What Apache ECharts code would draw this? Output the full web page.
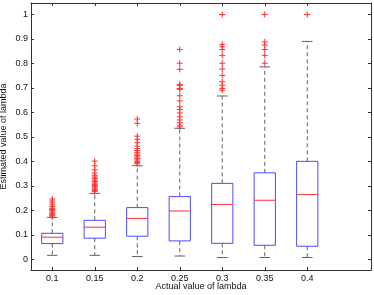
<!DOCTYPE html>
<html>
<head>
<meta charset="utf-8">
<script src="https://cdn.jsdelivr.net/npm/echarts@6/dist/echarts.min.js"></script>
<style>
html,body{margin:0;padding:0;background:#fff;}
#chart{width:374px;height:295px;}
</style>
</head>
<body>
<div id="chart"></div>
<script>
// ---- data ----
const categories = ['0.1', '0.15', '0.2', '0.25', '0.3', '0.35', '0.4'];
const lowerWhisker = [0.016, 0.016, 0.011, 0.013, 0.007, 0.007, 0.007];
const q1 = [0.064, 0.086, 0.094, 0.075, 0.065, 0.057, 0.053];
const medians = [0.090, 0.131, 0.167, 0.197, 0.224, 0.241, 0.264];
const q3 = [0.106, 0.159, 0.211, 0.256, 0.310, 0.353, 0.400];
const upperWhisker = [0.171, 0.269, 0.382, 0.535, 0.667, 0.786, 0.890];
const outliers = [
  [0.246, 0.238, 0.230, 0.222, 0.215, 0.208, 0.203, 0.198, 0.193, 0.188, 0.184, 0.180, 0.176],
  [0.401, 0.382, 0.365, 0.352, 0.343, 0.336, 0.330, 0.323, 0.317, 0.311, 0.306, 0.301, 0.296, 0.291, 0.286, 0.281, 0.276],
  [0.573, 0.555, 0.503, 0.490, 0.476, 0.462, 0.452, 0.444, 0.437, 0.430, 0.424, 0.418, 0.412, 0.406, 0.400, 0.395, 0.390],
  [0.857, 0.801, 0.776, 0.715, 0.710, 0.698, 0.694, 0.668, 0.647, 0.623, 0.612, 0.598, 0.582, 0.569, 0.558, 0.548, 0.541],
  [1.000, 0.878, 0.868, 0.857, 0.833, 0.801, 0.777, 0.751, 0.725, 0.711, 0.698, 0.690],
  [1.000, 0.888, 0.875, 0.857, 0.833, 0.801],
  [1.000]
];
const xTicks = [1, 2, 3, 4, 5, 6, 7];
const yTicks = [0, 0.1, 0.2, 0.3, 0.4, 0.5, 0.6, 0.7, 0.8, 0.9, 1];

// ---- build series data ----
const boxData = categories.map((c, i) => [i + 1, lowerWhisker[i], q1[i], medians[i], q3[i], upperWhisker[i]]);
const outlierData = [];
outliers.forEach((arr, i) => arr.forEach(v => outlierData.push([i + 1, v])));

const HALF = 0.25, CAP = 0.125;
const BLUE = '#4a4aff', RED = '#ff3030', WHISK = '#606060';

function renderBox(params, api) {
  const x = api.value(0);
  const lw = api.value(1), b1 = api.value(2), md = api.value(3), b3 = api.value(4), uw = api.value(5);
  const tl = api.coord([x - HALF, b3]);
  const br = api.coord([x + HALF, b1]);
  const c = api.coord([x, 0])[0];
  const yMd = api.coord([x, md])[1];
  const yUw = api.coord([x, uw])[1];
  const yLw = api.coord([x, lw])[1];
  const capL = api.coord([x - CAP, 0])[0];
  const capR = api.coord([x + CAP, 0])[0];
  return {
    type: 'group',
    children: [
      { type: 'line', shape: { x1: c, y1: tl[1], x2: c, y2: yUw }, style: { stroke: WHISK, lineWidth: 1, lineDash: [4, 3] } },
      { type: 'line', shape: { x1: c, y1: br[1], x2: c, y2: yLw }, style: { stroke: WHISK, lineWidth: 1, lineDash: [4, 3] } },
      { type: 'line', shape: { x1: capL, y1: yUw, x2: capR, y2: yUw }, style: { stroke: WHISK, lineWidth: 1 } },
      { type: 'line', shape: { x1: capL, y1: yLw, x2: capR, y2: yLw }, style: { stroke: WHISK, lineWidth: 1 } },
      { type: 'rect', shape: { x: tl[0], y: tl[1], width: br[0] - tl[0], height: br[1] - tl[1] }, style: { fill: 'none', stroke: BLUE, lineWidth: 1 } },
      { type: 'line', shape: { x1: tl[0], y1: yMd, x2: br[0], y2: yMd }, style: { stroke: RED, lineWidth: 1 } }
    ]
  };
}

function renderPlus(params, api) {
  const p = api.coord([api.value(0), api.value(1)]);
  const s = 3;
  return {
    type: 'group',
    children: [
      { type: 'line', shape: { x1: p[0] - s, y1: p[1], x2: p[0] + s, y2: p[1] }, style: { stroke: RED, lineWidth: 1 } },
      { type: 'line', shape: { x1: p[0], y1: p[1] - s, x2: p[0], y2: p[1] + s }, style: { stroke: RED, lineWidth: 1 } }
    ]
  };
}

const FONT = 'Liberation Sans, Arial, Helvetica, sans-serif';
const AXCOL = '#333';
const YMIN = -0.044, YMAX = 1.047;

const chart = echarts.init(document.getElementById('chart'), null, { renderer: 'canvas' });
chart.setOption({
  animation: false,
  backgroundColor: '#fff',
  grid: { left: 31, right: 3, top: 3, bottom: 25, containLabel: false, outerBoundsMode: 'none' },
  xAxis: [
    {
      type: 'value', min: 0.5, max: 8.5, position: 'bottom',
      name: 'Actual value of lambda', nameLocation: 'middle', nameGap: 12, nameMoveOverlap: false,
      nameTextStyle: { fontFamily: FONT, fontSize: 9, color: '#111' },
      axisLine: { show: true, onZero: false, lineStyle: { color: AXCOL, width: 1 } },
      axisTick: { show: true, inside: true, length: 3, customValues: xTicks, lineStyle: { color: AXCOL } },
      axisLabel: { customValues: xTicks, formatter: v => categories[Math.round(v) - 1] || '', fontFamily: FONT, fontSize: 9, color: '#111', margin: 4 },
      splitLine: { show: false }
    },
    {
      type: 'value', min: 0.5, max: 8.5, position: 'top',
      axisLine: { show: true, onZero: false, lineStyle: { color: AXCOL, width: 1 } },
      axisTick: { show: true, inside: true, length: 3, customValues: xTicks, lineStyle: { color: AXCOL } },
      axisLabel: { show: false },
      splitLine: { show: false }
    }
  ],
  yAxis: [
    {
      type: 'value', min: YMIN, max: YMAX, position: 'left',
      name: 'Estimated value of lambda', nameLocation: 'middle', nameGap: 23, nameRotate: 90, nameMoveOverlap: false,
      nameTextStyle: { fontFamily: FONT, fontSize: 9, color: '#111' },
      axisLine: { show: true, onZero: false, lineStyle: { color: AXCOL, width: 1 } },
      axisTick: { show: true, inside: true, length: 3, customValues: yTicks, lineStyle: { color: AXCOL } },
      axisLabel: { customValues: yTicks, fontFamily: FONT, fontSize: 9, color: '#111', margin: 3 },
      splitLine: { show: false }
    },
    {
      type: 'value', min: YMIN, max: YMAX, position: 'right',
      axisLine: { show: true, onZero: false, lineStyle: { color: AXCOL, width: 1 } },
      axisTick: { show: true, inside: true, length: 3, customValues: yTicks, lineStyle: { color: AXCOL } },
      axisLabel: { show: false },
      splitLine: { show: false }
    }
  ],
  series: [
    { type: 'custom', name: 'boxes', xAxisIndex: 0, yAxisIndex: 0, renderItem: renderBox, data: boxData, encode: { x: 0, y: [1, 2, 3, 4, 5] }, clip: true },
    { type: 'custom', name: 'outliers', xAxisIndex: 0, yAxisIndex: 0, renderItem: renderPlus, data: outlierData, encode: { x: 0, y: 1 } }
  ]
});
</script>
</body>
</html>
